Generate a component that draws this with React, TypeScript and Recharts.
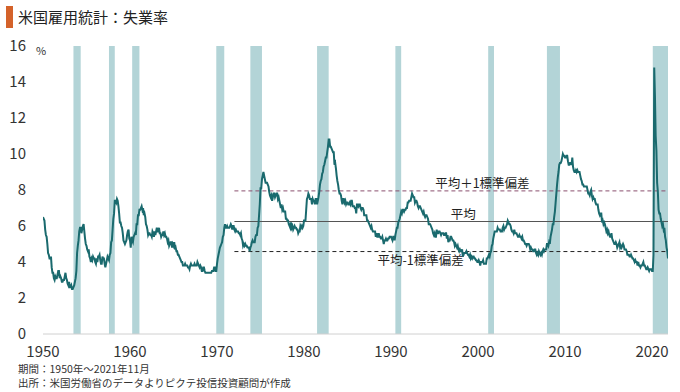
import React from 'react'
import {
  ComposedChart,
  Line,
  XAxis,
  YAxis,
  ReferenceArea,
  ReferenceLine,
  ReferenceDot,
} from 'recharts'

// US unemployment rate (%), monthly, Jan 1950 – Nov 2021
const firstYear = 1950
const unemploymentByYear: number[][] = [
  [6.5, 6.4, 6.3, 5.8, 5.5, 5.4, 5.0, 4.5, 4.4, 4.2, 4.2, 4.3],
  [3.7, 3.4, 3.4, 3.1, 3.0, 3.2, 3.1, 3.1, 3.3, 3.5, 3.5, 3.1],
  [3.2, 3.1, 2.9, 2.9, 3.0, 3.0, 3.2, 3.4, 3.1, 3.0, 2.8, 2.7],
  [2.9, 2.6, 2.6, 2.7, 2.5, 2.5, 2.6, 2.7, 2.9, 3.1, 3.5, 4.5],
  [4.9, 5.2, 5.7, 5.9, 5.9, 5.6, 5.8, 6.0, 6.1, 5.7, 5.3, 5.0],
  [4.9, 4.7, 4.6, 4.7, 4.3, 4.2, 4.0, 4.2, 4.1, 4.3, 4.2, 4.2],
  [4.0, 3.9, 4.2, 4.0, 4.3, 4.3, 4.4, 4.1, 3.9, 3.9, 4.3, 4.2],
  [4.2, 3.9, 3.7, 3.9, 4.1, 4.3, 4.2, 4.1, 4.4, 4.5, 5.1, 5.2],
  [5.8, 6.4, 6.7, 7.4, 7.4, 7.3, 7.5, 7.4, 7.1, 6.7, 6.2, 6.2],
  [6.0, 5.9, 5.6, 5.2, 5.1, 5.0, 5.1, 5.2, 5.5, 5.7, 5.8, 5.3],
  [5.2, 4.8, 5.4, 5.2, 5.1, 5.4, 5.5, 5.6, 5.5, 6.1, 6.1, 6.6],
  [6.6, 6.9, 6.9, 7.0, 7.1, 6.9, 7.0, 6.6, 6.7, 6.5, 6.1, 6.0],
  [5.8, 5.5, 5.6, 5.6, 5.5, 5.5, 5.4, 5.7, 5.6, 5.4, 5.7, 5.5],
  [5.7, 5.9, 5.7, 5.7, 5.9, 5.6, 5.6, 5.4, 5.5, 5.5, 5.7, 5.5],
  [5.6, 5.4, 5.4, 5.3, 5.1, 5.2, 4.9, 5.0, 5.1, 5.1, 4.8, 5.0],
  [4.9, 5.1, 4.7, 4.8, 4.6, 4.6, 4.4, 4.4, 4.3, 4.2, 4.1, 4.0],
  [4.0, 3.8, 3.8, 3.8, 3.9, 3.8, 3.8, 3.8, 3.7, 3.7, 3.6, 3.8],
  [3.9, 3.8, 3.8, 3.8, 3.8, 3.9, 3.8, 3.8, 3.8, 4.0, 3.9, 3.8],
  [3.7, 3.8, 3.7, 3.5, 3.5, 3.7, 3.7, 3.5, 3.4, 3.4, 3.4, 3.4],
  [3.4, 3.4, 3.4, 3.4, 3.4, 3.5, 3.5, 3.5, 3.7, 3.7, 3.5, 3.5],
  [3.9, 4.2, 4.4, 4.6, 4.8, 4.9, 5.0, 5.1, 5.4, 5.5, 5.9, 6.1],
  [5.9, 5.9, 6.0, 5.9, 5.9, 5.9, 6.0, 6.1, 6.0, 5.8, 6.0, 6.0],
  [5.8, 5.7, 5.8, 5.7, 5.7, 5.7, 5.6, 5.6, 5.5, 5.6, 5.3, 5.2],
  [4.9, 5.0, 4.9, 5.0, 4.9, 4.9, 4.8, 4.8, 4.8, 4.6, 4.8, 4.9],
  [5.1, 5.2, 5.1, 5.1, 5.1, 5.4, 5.5, 5.5, 5.9, 6.0, 6.6, 7.2],
  [8.1, 8.1, 8.6, 8.8, 9.0, 8.8, 8.6, 8.4, 8.4, 8.4, 8.3, 8.2],
  [7.9, 7.7, 7.6, 7.7, 7.4, 7.6, 7.8, 7.8, 7.6, 7.7, 7.8, 7.8],
  [7.5, 7.6, 7.4, 7.2, 7.0, 7.2, 6.9, 7.0, 6.8, 6.8, 6.8, 6.4],
  [6.4, 6.3, 6.3, 6.1, 6.0, 5.9, 6.2, 5.9, 6.0, 5.8, 5.9, 6.0],
  [5.9, 5.9, 5.8, 5.8, 5.6, 5.7, 5.7, 6.0, 5.9, 6.0, 5.9, 6.0],
  [6.3, 6.3, 6.3, 6.9, 7.5, 7.6, 7.8, 7.7, 7.5, 7.5, 7.5, 7.2],
  [7.5, 7.4, 7.4, 7.2, 7.5, 7.5, 7.2, 7.4, 7.6, 7.9, 8.3, 8.5],
  [8.6, 8.9, 9.0, 9.3, 9.4, 9.6, 9.8, 9.8, 10.1, 10.4, 10.8, 10.8],
  [10.4, 10.4, 10.3, 10.2, 10.1, 10.1, 9.4, 9.5, 9.2, 8.8, 8.5, 8.3],
  [8.0, 7.8, 7.8, 7.7, 7.4, 7.2, 7.5, 7.5, 7.3, 7.4, 7.2, 7.3],
  [7.3, 7.2, 7.2, 7.3, 7.2, 7.4, 7.4, 7.1, 7.1, 7.1, 7.0, 7.0],
  [6.7, 7.2, 7.2, 7.1, 7.2, 7.2, 7.0, 6.9, 7.0, 7.0, 6.9, 6.6],
  [6.6, 6.6, 6.6, 6.3, 6.3, 6.2, 6.1, 6.0, 5.9, 6.0, 5.8, 5.7],
  [5.7, 5.7, 5.7, 5.4, 5.6, 5.4, 5.4, 5.6, 5.4, 5.4, 5.3, 5.3],
  [5.4, 5.2, 5.0, 5.2, 5.2, 5.3, 5.2, 5.2, 5.3, 5.3, 5.4, 5.4],
  [5.4, 5.3, 5.2, 5.4, 5.4, 5.2, 5.5, 5.7, 5.9, 5.9, 6.2, 6.3],
  [6.4, 6.6, 6.8, 6.7, 6.9, 6.9, 6.8, 6.9, 6.9, 7.0, 7.0, 7.3],
  [7.3, 7.4, 7.4, 7.4, 7.6, 7.8, 7.7, 7.6, 7.6, 7.3, 7.4, 7.4],
  [7.3, 7.1, 7.0, 7.1, 7.1, 7.0, 6.9, 6.8, 6.7, 6.8, 6.6, 6.5],
  [6.6, 6.6, 6.5, 6.4, 6.1, 6.1, 6.1, 6.0, 5.9, 5.8, 5.6, 5.5],
  [5.6, 5.4, 5.4, 5.8, 5.6, 5.6, 5.7, 5.7, 5.6, 5.5, 5.6, 5.6],
  [5.6, 5.5, 5.5, 5.6, 5.6, 5.3, 5.5, 5.1, 5.2, 5.2, 5.4, 5.4],
  [5.3, 5.2, 5.2, 5.1, 4.9, 5.0, 4.9, 4.8, 4.9, 4.7, 4.6, 4.7],
  [4.6, 4.6, 4.7, 4.3, 4.4, 4.5, 4.5, 4.5, 4.6, 4.5, 4.4, 4.4],
  [4.3, 4.4, 4.2, 4.3, 4.2, 4.3, 4.3, 4.2, 4.2, 4.1, 4.1, 4.0],
  [4.0, 4.1, 4.0, 3.8, 4.0, 4.0, 4.0, 4.1, 3.9, 3.9, 3.9, 3.9],
  [4.2, 4.2, 4.3, 4.4, 4.3, 4.5, 4.6, 4.9, 5.0, 5.3, 5.5, 5.7],
  [5.7, 5.7, 5.7, 5.9, 5.8, 5.8, 5.8, 5.7, 5.7, 5.7, 5.9, 6.0],
  [5.8, 5.9, 5.9, 6.0, 6.1, 6.3, 6.2, 6.1, 6.1, 6.0, 5.8, 5.7],
  [5.7, 5.6, 5.8, 5.6, 5.6, 5.6, 5.5, 5.4, 5.4, 5.5, 5.4, 5.4],
  [5.3, 5.4, 5.2, 5.2, 5.1, 5.0, 5.0, 4.9, 5.0, 5.0, 5.0, 4.9],
  [4.7, 4.8, 4.7, 4.7, 4.6, 4.6, 4.7, 4.7, 4.5, 4.4, 4.5, 4.4],
  [4.6, 4.5, 4.4, 4.5, 4.4, 4.6, 4.7, 4.6, 4.7, 4.7, 4.7, 5.0],
  [5.0, 4.9, 5.1, 5.0, 5.4, 5.6, 5.8, 6.1, 6.1, 6.5, 6.8, 7.3],
  [7.8, 8.3, 8.7, 9.0, 9.4, 9.5, 9.5, 9.6, 9.8, 10.0, 9.9, 9.9],
  [9.8, 9.8, 9.9, 9.9, 9.6, 9.4, 9.4, 9.5, 9.5, 9.4, 9.8, 9.3],
  [9.1, 9.0, 9.0, 9.1, 9.0, 9.1, 9.0, 9.0, 9.0, 8.8, 8.6, 8.5],
  [8.3, 8.3, 8.2, 8.2, 8.2, 8.2, 8.2, 8.0, 7.8, 7.8, 7.7, 7.9],
  [8.0, 7.7, 7.5, 7.6, 7.5, 7.5, 7.3, 7.2, 7.2, 7.2, 6.9, 6.7],
  [6.6, 6.7, 6.7, 6.2, 6.3, 6.1, 6.2, 6.1, 5.9, 5.7, 5.8, 5.6],
  [5.7, 5.5, 5.4, 5.4, 5.6, 5.3, 5.2, 5.1, 5.0, 5.0, 5.1, 5.0],
  [4.8, 4.9, 5.0, 5.1, 4.8, 4.9, 4.8, 4.9, 5.0, 4.9, 4.7, 4.7],
  [4.7, 4.6, 4.4, 4.4, 4.4, 4.3, 4.3, 4.4, 4.3, 4.2, 4.2, 4.1],
  [4.0, 4.1, 4.0, 4.0, 3.8, 4.0, 3.8, 3.8, 3.7, 3.8, 3.8, 3.9],
  [4.0, 3.8, 3.8, 3.7, 3.6, 3.6, 3.7, 3.6, 3.5, 3.6, 3.6, 3.6],
  [3.5, 3.5, 4.4, 14.8, 13.2, 11.0, 10.2, 8.4, 7.9, 6.9, 6.7, 6.7],
  [6.4, 6.2, 6.0, 6.1, 5.8, 5.9, 5.4, 5.2, 4.8, 4.6, 4.2],
]

// recession periods [year, month]
const recessionStarts: [number, number][] = [
  [1953, 7], [1957, 8], [1960, 4], [1969, 12], [1973, 11],
  [1981, 7], [1990, 7], [2001, 3], [2007, 12], [2020, 2],
]
const recessionEnds: [number, number][] = [
  [1954, 5], [1958, 4], [1961, 2], [1970, 11], [1975, 3],
  [1982, 11], [1991, 3], [2001, 11], [2009, 6], [2021, 11],
]

const xTicks = [1950, 1960, 1970, 1980, 1990, 2000, 2010, 2020]
const yTicks = [0, 2, 4, 6, 8, 10, 12, 14, 16]

const bandStartYear = 1972
const meanRate = 6.25
const upperRate = 7.95
const lowerRate = 4.58

const toX = (y: number, m: number) => y + (m - 1) / 12

const data = unemploymentByYear.flatMap((row, i) =>
  row.map((v, m) => ({ t: toX(firstYear + i, m + 1), rate: v }))
)
const lastT = data[data.length - 1].t

const jp = '"Noto Sans CJK JP", "Noto Sans", sans-serif'
const lineColor = '#1a6a6e'
const bandColor = '#b3d4d7'

const App: React.FC = () => {
  return (
    <div style={{ position: 'absolute', left: 0, top: 0, width: 680, height: 392, background: '#fff', fontFamily: jp }}>
      <div style={{ position: 'absolute', left: 6, top: 6, width: 7, height: 22, background: '#d4622a' }} />
      <div style={{ position: 'absolute', left: 18, top: 6, fontSize: 15, color: '#222', lineHeight: '22px' }}>
        米国雇用統計：失業率
      </div>
      <div style={{ position: 'absolute', left: 36, top: 42, fontSize: 11, color: '#333' }}>%</div>
      <ComposedChart
        width={680}
        height={392}
        data={data}
        margin={{ top: 46, right: 12, left: 8, bottom: 28 }}
      >
        <XAxis
          dataKey="t"
          type="number"
          domain={[firstYear, lastT]}
          ticks={xTicks}
          tickLine={false}
          tickSize={0}
          tickMargin={12}
          height={30}
          axisLine={{ stroke: '#d0d0d0' }}
          tick={{ fontSize: 15, fill: '#333', fontFamily: jp }}
          allowDataOverflow
        />
        <YAxis
          type="number"
          domain={[0, 16]}
          ticks={yTicks}
          width={35}
          tickLine={false}
          tickSize={0}
          tickMargin={17}
          axisLine={false}
          tick={{ fontSize: 15, fill: '#333', fontFamily: jp }}
        />
        {recessionStarts.map((s, i) => (
          <ReferenceArea
            key={i}
            x1={toX(s[0], s[1])}
            x2={toX(recessionEnds[i][0], recessionEnds[i][1])}
            y1={0}
            y2={16}
            fill={bandColor}
            fillOpacity={1}
            stroke="none"
          />
        ))}
        <ReferenceLine
          segment={[{ x: bandStartYear, y: upperRate }, { x: lastT, y: upperRate }]}
          stroke="#8a4f6e"
          strokeDasharray="4 3"
          strokeWidth={1}
        />
        <ReferenceLine
          segment={[{ x: bandStartYear, y: meanRate }, { x: lastT, y: meanRate }]}
          stroke="#555"
          strokeWidth={1.2}
        />
        <ReferenceLine
          segment={[{ x: bandStartYear, y: lowerRate }, { x: lastT, y: lowerRate }]}
          stroke="#222"
          strokeDasharray="4 3"
          strokeWidth={1}
        />
        <Line
          dataKey="rate"
          type="linear"
          stroke={lineColor}
          strokeWidth={2}
          dot={false}
          isAnimationActive={false}
        />
        <ReferenceDot
          x={2000.5}
          y={upperRate}
          r={0}
          fill="none"
          stroke="none"
          label={{ value: '平均＋1標準偏差', position: 'top', offset: 3, fontSize: 12.5, fill: '#222', fontFamily: jp }}
        />
        <ReferenceDot
          x={1998.3}
          y={meanRate}
          r={0}
          fill="none"
          stroke="none"
          label={{ value: '平均', position: 'top', offset: 3, fontSize: 12.5, fill: '#222', fontFamily: jp }}
        />
        <ReferenceDot
          x={1993.4}
          y={lowerRate}
          r={0}
          fill="none"
          stroke="none"
          label={{ value: '平均-1標準偏差', position: 'bottom', offset: 5, fontSize: 12.5, fill: '#222', fontFamily: jp }}
        />
      </ComposedChart>
      <div style={{ position: 'absolute', left: 18, top: 362, fontSize: 10.5, color: '#333', lineHeight: '14px', whiteSpace: 'nowrap' }}>
        <div>期間：1950年～2021年11月</div>
        <div>出所：米国労働省のデータよりピクテ投信投資顧問が作成</div>
      </div>
    </div>
  )
}

export default App
